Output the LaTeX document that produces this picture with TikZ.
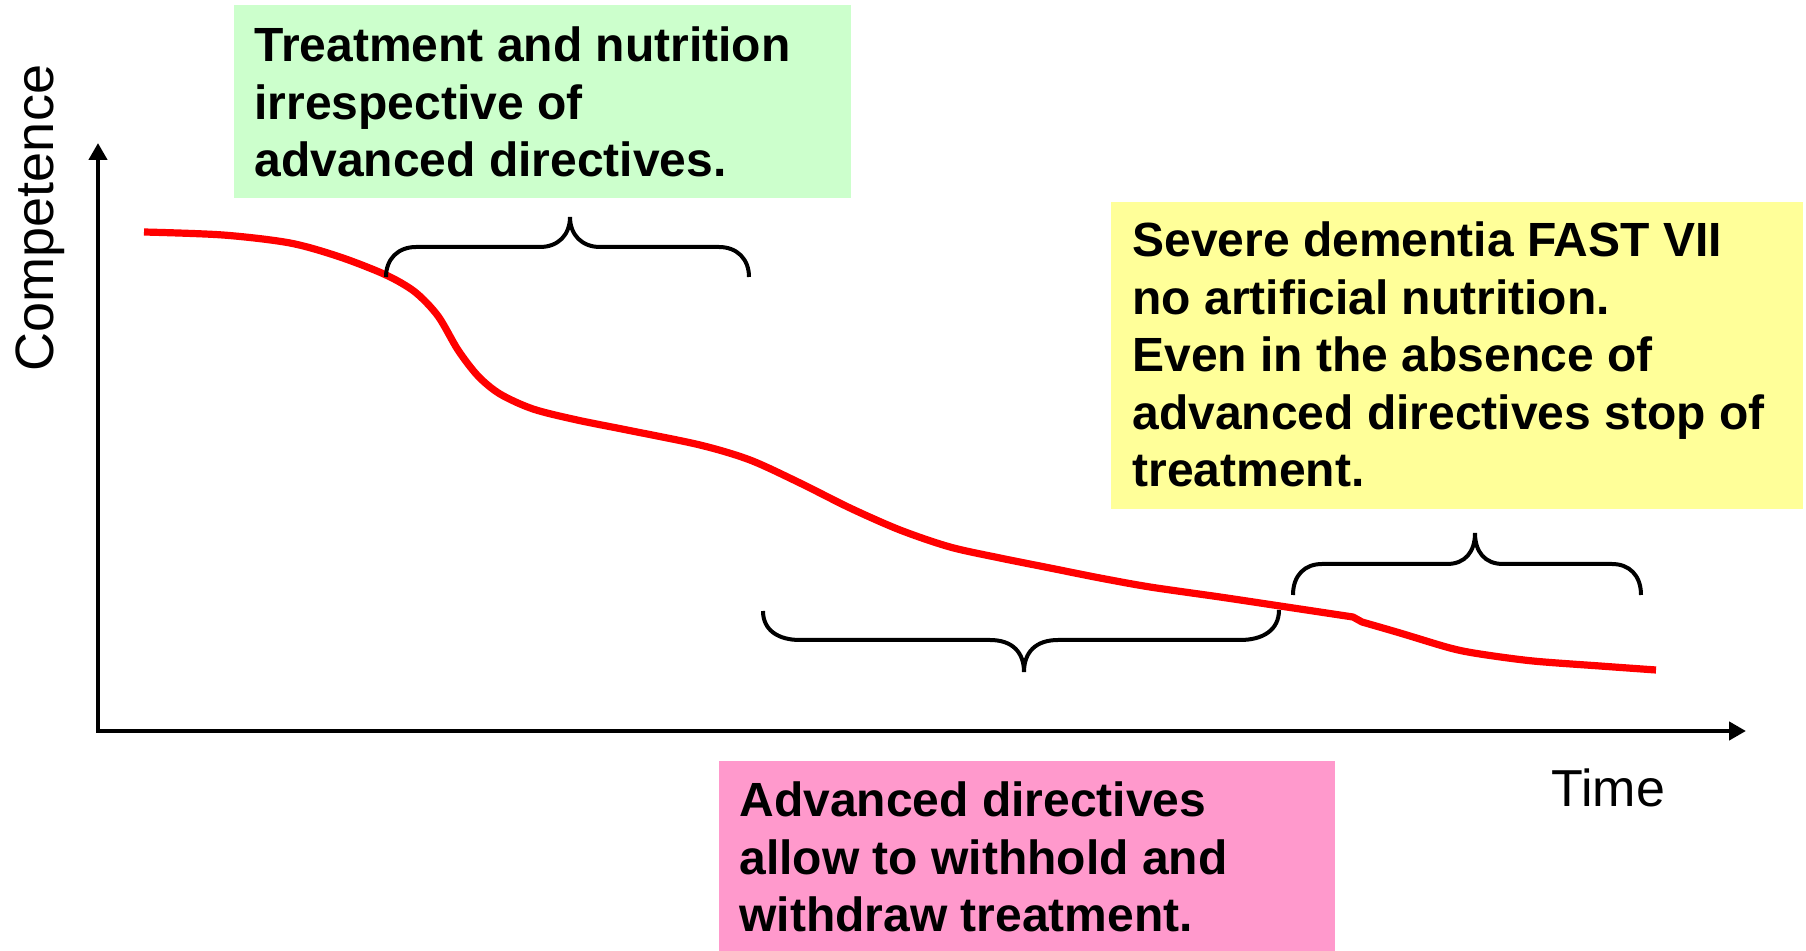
\documentclass[tikz,border=0pt]{standalone}
\usepackage{fontspec}
\setmainfont{Liberation Sans}
\usetikzlibrary{arrows.meta}
\definecolor{greenfill}{HTML}{CCFFCC}
\definecolor{yellowfill}{HTML}{FFFF99}
\definecolor{pinkfill}{HTML}{FF99CC}
\definecolor{curvered}{HTML}{FF0000}
\tikzset{
  boxfill/.style={inner sep=0pt, anchor=north west, draw=none},
  boxtext/.style={inner sep=0pt, anchor=base west, font=\fontsize{24}{28.75}\selectfont\bfseries},
  axisline/.style={line width=2.2pt, line join=miter, {Triangle[length=8.5pt,width=9pt]}-{Triangle[length=8.5pt,width=9pt]}},
  redcurve/.style={line width=3.6pt, curvered, line join=round},
  bracestyle/.style={line width=2pt, black, line cap=butt},
}
\begin{document}
\begin{tikzpicture}[x=0.5pt,y=-0.5pt]
\useasboundingbox (0,0) rectangle (1806,951);
% coloured boxes
\node[boxfill, fill=greenfill, minimum width=308.5pt, minimum height=96.5pt] (gbox) at (234,5) {};
\node[boxfill, fill=yellowfill, minimum width=346pt, minimum height=153.5pt] (ybox) at (1111,202) {};
\node[boxfill, fill=pinkfill, minimum width=308pt, minimum height=95pt] (pbox) at (719,761) {};
% texts in boxes
\node[boxtext] (gtext) at (254,62) {\parbox[t]{400pt}{\baselineskip=28.75pt Treatment and nutrition\\ irrespective of\\ advanced directives.}};
\node[boxtext] (ytext) at (1132,257) {\parbox[t]{400pt}{\baselineskip=28.75pt Severe dementia FAST VII\\ no artificial nutrition.\\ Even in the absence of\\ advanced directives stop of\\ treatment.}};
\node[boxtext] (ptext) at (739,817) {\parbox[t]{400pt}{\baselineskip=28.75pt Advanced directives\\ allow to withhold and\\ withdraw treatment.}};
% axes
\coordinate (origin) at (98,731);
\coordinate (ytip) at (98,143);
\coordinate (xtip) at (1746,731);
\draw[axisline] (ytip) -- (origin) -- (xtip);
\node[rotate=90, anchor=base, inner sep=0pt, font=\fontsize{27}{32}\selectfont] (ylabel) at (54,218) {Competence};
\node[anchor=base west, inner sep=0pt, font=\fontsize{26}{31}\selectfont] (xlabel) at (1551,807) {Time};
% competence curve
\draw[redcurve] plot[smooth, tension=0.5] coordinates {
  (144,232) (223,235) (290,243) (340,257) (386,275) (415,292) (438,316)
  (458,350) (478,376) (500,394) (533,409) (577,420) (627,430) (700,445)
  (750,460) (800,483) (850,508) (900,530) (950,547) (1000,558) (1050,568)
  (1100,578) (1150,587) (1220,597) (1280,606) (1353,617)}
  -- plot[smooth, tension=0.5] coordinates {
  (1362,622) (1400,633) (1450,648) (1480,654) (1533,661) (1600,666) (1656,670)};
% braces
\draw[bracestyle] (386,277) .. controls (386,259) and (398,247) .. (416,247)
  -- (540,247) .. controls (558,247) and (570,235) .. (570,217)
  .. controls (570,235) and (582,247) .. (600,247)
  -- (719,247) .. controls (737,247) and (749,259) .. (749,277);
\draw[bracestyle] (763,611) .. controls (763,630) and (778,640) .. (800,640)
  -- (990,640) .. controls (1012,640) and (1024,652) .. (1024,672)
  .. controls (1024,652) and (1036,640) .. (1058,640)
  -- (1240,640) .. controls (1263,640) and (1279,630) .. (1279,610);
\draw[bracestyle] (1293,595) .. controls (1293,575) and (1305,564) .. (1322,564)
  -- (1447,564) .. controls (1465,564) and (1475,552) .. (1475,533)
  .. controls (1475,552) and (1485,564) .. (1503,564)
  -- (1612,564) .. controls (1629,564) and (1641,575) .. (1641,595);
\end{tikzpicture}
\end{document}
